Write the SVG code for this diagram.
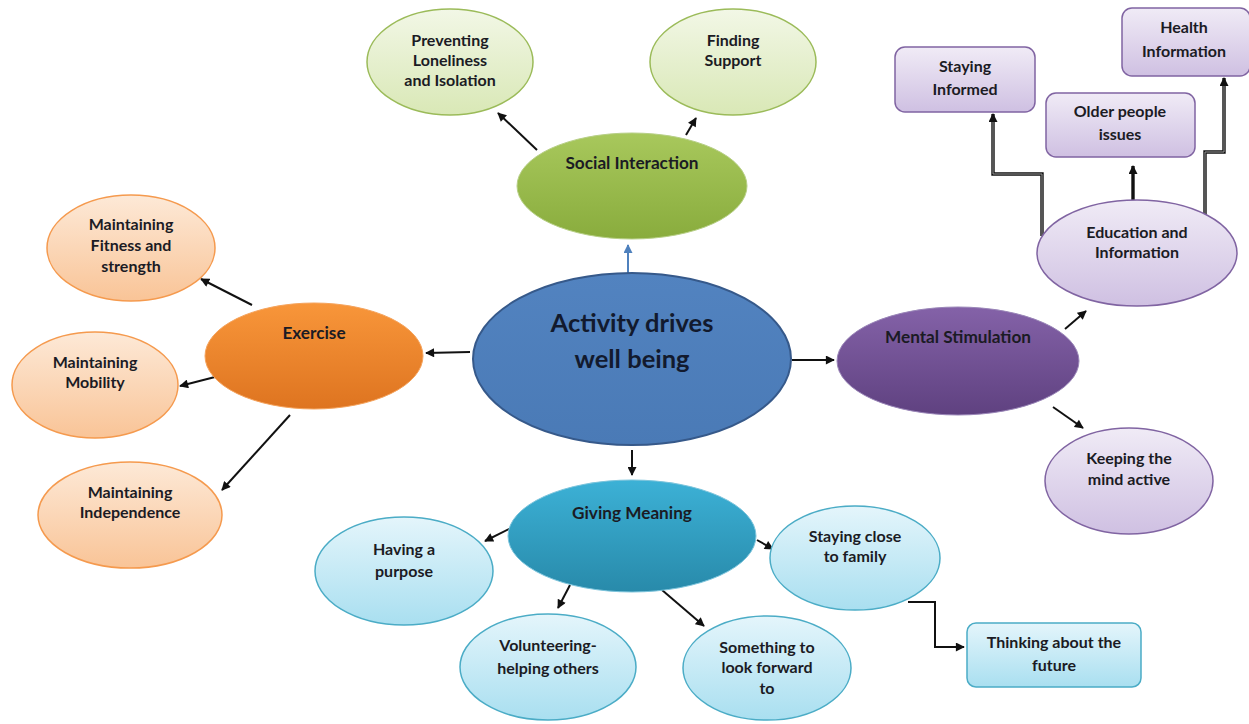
<svg xmlns="http://www.w3.org/2000/svg" width="1249" height="724" viewBox="0 0 1249 724">
  <style>
    text { font-family: Lato, "Open Sans", "Liberation Sans", sans-serif; font-weight: bold; fill: #1b1b24; text-anchor: middle; }
    .t { font-size: 16px; }
    .m { font-size: 17.2px; }
    .big { font-size: 25.5px; fill: #121a2e; }
    .conn line, .conn path { stroke: #111; stroke-width: 2; fill: none; marker-end: url(#arrow); }
    .conn .dbl { stroke-width: 3.4; }
    .conn .core { stroke: #9a9a9a; stroke-width: 1; marker-end: none; }
    .blue { stroke: #4f81bd !important; marker-end: url(#arrowBlue) !important; }
  </style>
  <defs>
    <marker id="arrow" viewBox="0 0 10 10" refX="9" refY="5" markerWidth="10" markerHeight="9" markerUnits="userSpaceOnUse" orient="auto">
      <path d="M0,0 L10,5 L0,10 z" fill="#111"/>
    </marker>
    <marker id="arrowBlue" viewBox="0 0 10 10" refX="9" refY="5" markerWidth="10" markerHeight="9" markerUnits="userSpaceOnUse" orient="auto">
      <path d="M0,0 L10,5 L0,10 z" fill="#4f81bd"/>
    </marker>
    <linearGradient id="gBlue" x1="0" y1="0" x2="0" y2="1">
      <stop offset="0" stop-color="#5283c0"/><stop offset="1" stop-color="#4a7ab6"/>
    </linearGradient>
    <linearGradient id="gGreen" x1="0" y1="0" x2="0" y2="1">
      <stop offset="0" stop-color="#a8c85c"/><stop offset="1" stop-color="#89ac3d"/>
    </linearGradient>
    <linearGradient id="gGreenL" x1="0" y1="0" x2="0" y2="1">
      <stop offset="0" stop-color="#f2f7e6"/><stop offset="1" stop-color="#d9e8b6"/>
    </linearGradient>
    <linearGradient id="gOrange" x1="0" y1="0" x2="0" y2="1">
      <stop offset="0" stop-color="#f8963a"/><stop offset="1" stop-color="#de7420"/>
    </linearGradient>
    <linearGradient id="gOrangeL" x1="0" y1="0" x2="0" y2="1">
      <stop offset="0" stop-color="#fde9d7"/><stop offset="1" stop-color="#f9c497"/>
    </linearGradient>
    <linearGradient id="gPurple" x1="0" y1="0" x2="0" y2="1">
      <stop offset="0" stop-color="#8462a8"/><stop offset="1" stop-color="#5f4180"/>
    </linearGradient>
    <linearGradient id="gPurpleL" x1="0" y1="0" x2="0" y2="1">
      <stop offset="0" stop-color="#f0ebf6"/><stop offset="1" stop-color="#cfc0e2"/>
    </linearGradient>
    <linearGradient id="gTeal" x1="0" y1="0" x2="0" y2="1">
      <stop offset="0" stop-color="#3cb1d6"/><stop offset="1" stop-color="#288aaa"/>
    </linearGradient>
    <linearGradient id="gTealL" x1="0" y1="0" x2="0" y2="1">
      <stop offset="0" stop-color="#e4f5fb"/><stop offset="1" stop-color="#a9dff0"/>
    </linearGradient>
  </defs>

  <rect width="1249" height="724" fill="#ffffff"/>

  <!-- connectors -->
  <g id="connectors" class="conn">
    <line class="blue" x1="628" y1="273" x2="628" y2="245"/>
    <line x1="537" y1="150" x2="498" y2="113"/>
    <line x1="686" y1="135" x2="696" y2="118"/>
    <line x1="470" y1="352" x2="426" y2="353"/>
    <line x1="252" y1="305" x2="201" y2="279"/>
    <line x1="215" y1="377" x2="180" y2="386"/>
    <line x1="290" y1="415" x2="222" y2="490"/>
    <line x1="792" y1="360" x2="834" y2="360"/>
    <line x1="1065" y1="329" x2="1086" y2="311"/>
    <line x1="1053" y1="407" x2="1083" y2="428"/>
    <line x1="632" y1="450" x2="632" y2="475"/>
    <line x1="511" y1="528" x2="485" y2="541"/>
    <line x1="570" y1="585" x2="558" y2="608"/>
    <line x1="662" y1="590" x2="704" y2="626"/>
    <line x1="757" y1="540" x2="773" y2="549"/>
    <path d="M908,602 H935 V647 H964"/>
    <path class="dbl" d="M1042,236 V174 H993 V114"/>
    <path class="core" d="M1042,236 V174 H993 V122"/>
    <line class="dbl" x1="1133" y1="200" x2="1133" y2="166"/>
    <path class="dbl" d="M1205,216 V152 H1224 V78"/>
    <path class="core" d="M1205,216 V152 H1224 V86"/>
  </g>

  <!-- central node -->
  <g id="node-activity">
    <ellipse cx="632" cy="359" rx="159" ry="86" fill="url(#gBlue)" stroke="#36598a" stroke-width="2"/>
    <text class="big" x="632" y="332">Activity drives</text>
    <text class="big" x="632" y="368">well being</text>
  </g>

  <!-- social interaction branch -->
  <g id="node-social">
    <ellipse cx="632" cy="186" rx="115" ry="53" fill="url(#gGreen)" stroke="#b7cf86" stroke-width="1"/>
    <text class="m" x="632" y="169">Social Interaction</text>
  </g>
  <g id="node-loneliness">
    <ellipse cx="450" cy="62" rx="83" ry="53" fill="url(#gGreenL)" stroke="#9bbb59" stroke-width="1.5"/>
    <text class="t" x="450" y="46">Preventing</text>
    <text class="t" x="450" y="66">Loneliness</text>
    <text class="t" x="450" y="86">and Isolation</text>
  </g>
  <g id="node-support">
    <ellipse cx="733" cy="62" rx="83" ry="53" fill="url(#gGreenL)" stroke="#9bbb59" stroke-width="1.5"/>
    <text class="t" x="733" y="46">Finding</text>
    <text class="t" x="733" y="66">Support</text>
  </g>

  <!-- exercise branch -->
  <g id="node-exercise">
    <ellipse cx="314" cy="356" rx="109" ry="53" fill="url(#gOrange)" stroke="#f5a35c" stroke-width="1"/>
    <text class="m" x="314" y="339">Exercise</text>
  </g>
  <g id="node-fitness">
    <ellipse cx="131" cy="248" rx="84" ry="53" fill="url(#gOrangeL)" stroke="#f59a4e" stroke-width="1.5"/>
    <text class="t" x="131" y="230">Maintaining</text>
    <text class="t" x="131" y="251">Fitness and</text>
    <text class="t" x="131" y="272">strength</text>
  </g>
  <g id="node-mobility">
    <ellipse cx="95" cy="385" rx="83" ry="53" fill="url(#gOrangeL)" stroke="#f59a4e" stroke-width="1.5"/>
    <text class="t" x="95" y="368">Maintaining</text>
    <text class="t" x="95" y="388">Mobility</text>
  </g>
  <g id="node-independence">
    <ellipse cx="130" cy="515" rx="92" ry="53" fill="url(#gOrangeL)" stroke="#f59a4e" stroke-width="1.5"/>
    <text class="t" x="130" y="498">Maintaining</text>
    <text class="t" x="130" y="518">Independence</text>
  </g>

  <!-- mental stimulation branch -->
  <g id="node-mental">
    <ellipse cx="958" cy="361" rx="121" ry="54" fill="url(#gPurple)" stroke="#9a86b8" stroke-width="1"/>
    <text class="m" x="958" y="343">Mental Stimulation</text>
  </g>
  <g id="node-education">
    <ellipse cx="1137" cy="253" rx="100" ry="53" fill="url(#gPurpleL)" stroke="#8064a2" stroke-width="1.5"/>
    <text class="t" x="1137" y="238">Education and</text>
    <text class="t" x="1137" y="258">Information</text>
  </g>
  <g id="node-keeping">
    <ellipse cx="1129" cy="481" rx="84" ry="53" fill="url(#gPurpleL)" stroke="#8064a2" stroke-width="1.5"/>
    <text class="t" x="1129" y="464">Keeping the</text>
    <text class="t" x="1129" y="485">mind active</text>
  </g>
  <g id="node-informed">
    <rect x="895" y="47" width="140" height="65" rx="10" fill="url(#gPurpleL)" stroke="#8064a2" stroke-width="1.5"/>
    <text class="t" x="965" y="72">Staying</text>
    <text class="t" x="965" y="95">Informed</text>
  </g>
  <g id="node-older">
    <rect x="1046" y="93" width="149" height="64" rx="10" fill="url(#gPurpleL)" stroke="#8064a2" stroke-width="1.5"/>
    <text class="t" x="1120" y="117">Older people</text>
    <text class="t" x="1120" y="140">issues</text>
  </g>
  <g id="node-health">
    <rect x="1122" y="8" width="128" height="68" rx="10" fill="url(#gPurpleL)" stroke="#8064a2" stroke-width="1.5"/>
    <text class="t" x="1184" y="33">Health</text>
    <text class="t" x="1184" y="57">Information</text>
  </g>

  <!-- giving meaning branch -->
  <g id="node-giving">
    <ellipse cx="632" cy="536" rx="124" ry="56" fill="url(#gTeal)" stroke="#7cc4dc" stroke-width="1"/>
    <text class="m" x="632" y="519">Giving Meaning</text>
  </g>
  <g id="node-purpose">
    <ellipse cx="404" cy="571" rx="89" ry="54" fill="url(#gTealL)" stroke="#4bacc6" stroke-width="1.5"/>
    <text class="t" x="404" y="555">Having a</text>
    <text class="t" x="404" y="577">purpose</text>
  </g>
  <g id="node-volunteering">
    <ellipse cx="548" cy="667" rx="88" ry="53" fill="url(#gTealL)" stroke="#4bacc6" stroke-width="1.5"/>
    <text class="t" x="548" y="651">Volunteering-</text>
    <text class="t" x="548" y="674">helping others</text>
  </g>
  <g id="node-forward">
    <ellipse cx="767" cy="668" rx="84" ry="52" fill="url(#gTealL)" stroke="#4bacc6" stroke-width="1.5"/>
    <text class="t" x="767" y="653">Something to</text>
    <text class="t" x="767" y="673">look forward</text>
    <text class="t" x="767" y="694">to</text>
  </g>
  <g id="node-family">
    <ellipse cx="855" cy="558" rx="85" ry="52" fill="url(#gTealL)" stroke="#4bacc6" stroke-width="1.5"/>
    <text class="t" x="855" y="542">Staying close</text>
    <text class="t" x="855" y="562">to family</text>
  </g>
  <g id="node-future">
    <rect x="967" y="623" width="174" height="64" rx="9" fill="url(#gTealL)" stroke="#4bacc6" stroke-width="1.5"/>
    <text class="t" x="1054" y="648">Thinking about the</text>
    <text class="t" x="1054" y="671">future</text>
  </g>
</svg>
